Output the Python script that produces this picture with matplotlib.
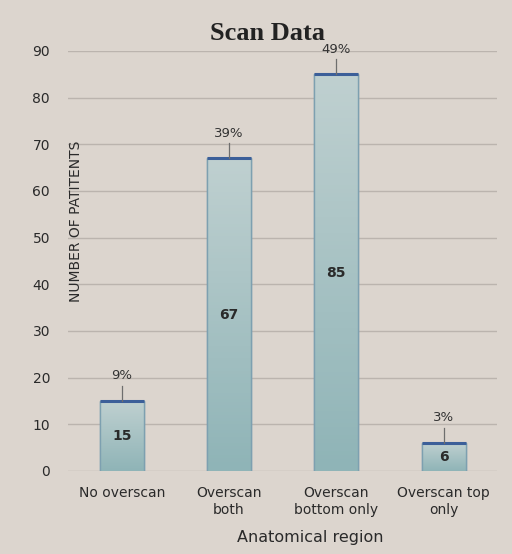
import matplotlib
matplotlib.use("Agg")
import matplotlib.pyplot as plt
import numpy as np
from matplotlib.colors import LinearSegmentedColormap

categories = ["No overscan", "Overscan\nboth", "Overscan\nbottom only", "Overscan top\nonly"]
counts = [15, 67, 85, 6]
percents = ["9%", "39%", "49%", "3%"]
yticks = [0, 10, 20, 30, 40, 50, 60, 70, 80, 90]

bg = "#dcd5ce"
fig = plt.figure(figsize=(5.12, 5.54), dpi=100, facecolor=bg)
ax = fig.add_axes([0.133, 0.150, 0.838, 0.758], facecolor=bg)

x = np.arange(len(categories))
width = 0.41
bars = ax.bar(x, counts, width=width, color="#a9c4c4", edgecolor="#7fa3b3",
              linewidth=1.0, zorder=3)

grad = np.linspace(0, 1, 100).reshape(-1, 1)
cmap = LinearSegmentedColormap.from_list("g", ["#8fb4b7", "#bfd0d0"])
for b in bars:
    x0, y0 = b.get_x(), b.get_y()
    w, h = b.get_width(), b.get_height()
    im = ax.imshow(grad, extent=[x0, x0 + w, y0, y0 + h], origin="lower",
                   cmap=cmap, aspect="auto", zorder=3.5)
    im.set_clip_path(b)
    ax.plot([x0, x0, x0 + w, x0 + w], [0, h, h, 0], color="#7da0b0", lw=1.0, zorder=3.8)
    ax.plot([x0, x0 + w], [y0 + h, y0 + h], color="#3c5f99", lw=2.2,
            zorder=4, solid_capstyle="butt")

for xi, c, p in zip(x, counts, percents):
    ax.plot([xi, xi], [c, c + 3.3], color="#6e6e6e", lw=0.9, zorder=4)
    ax.text(xi, c + 4.0, p, ha="center", va="bottom", fontsize=9.5,
            color="#333333", zorder=5)
    ax.text(xi, c / 2, str(c), ha="center", va="center", fontsize=10,
            color="#2a2a2a", fontweight="semibold", zorder=5)

ax.set_xlim(-0.5, 3.5)
ax.set_ylim(0, 90)
ax.set_yticks(yticks)
ax.set_xticks(x)
ax.set_xticklabels(categories, fontsize=10, color="#2a2a2a", linespacing=1.3)
ax.tick_params(axis="both", length=0, labelsize=10, colors="#2a2a2a")
ax.tick_params(axis="x", pad=11)
ax.tick_params(axis="y", pad=13)
ax.yaxis.grid(True, color="#bbb4ae", lw=1.0, zorder=0)
for s in ax.spines.values():
    s.set_visible(False)

ax.set_ylabel("NUMBER OF PATITENTS", fontsize=10, color="#2a2a2a")
ax.yaxis.set_label_coords(0.035, 0.595)
ax.set_xlabel("Anatomical region", fontsize=11.5, color="#2a2a2a")
ax.xaxis.set_label_coords(0.564, -0.14)

fig.text(0.523, 0.94, "Scan Data", ha="center", va="center",
         fontsize=19, fontweight="bold", family="Liberation Serif", color="#222222")

fig.savefig("out.png", dpi=100, facecolor=bg)
